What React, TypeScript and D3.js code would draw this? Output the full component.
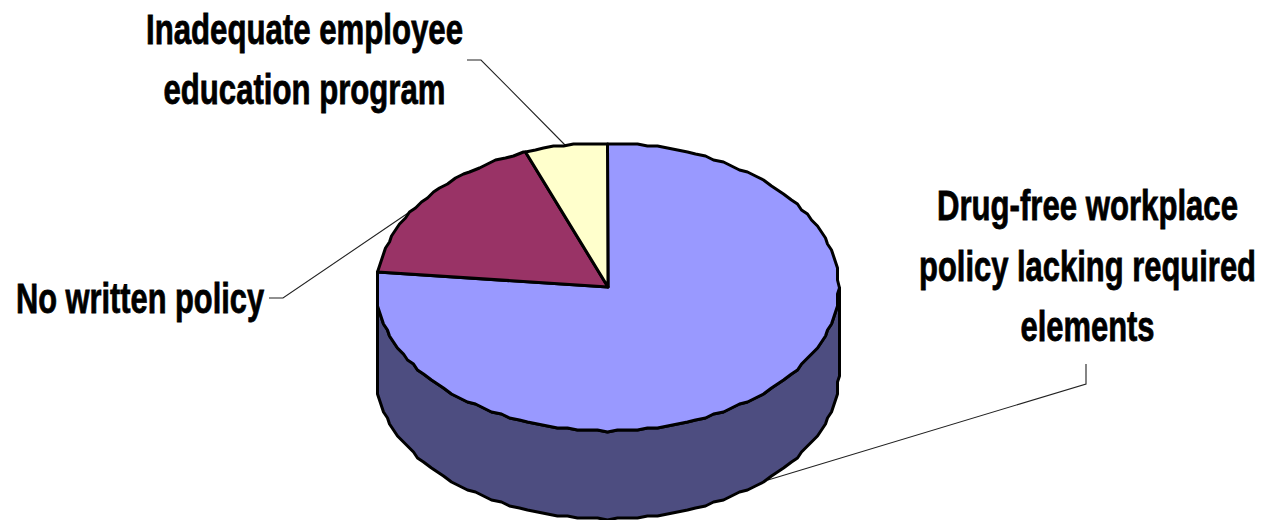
import React from "react";
import * as d3 from "d3";

const sliceNames = ["Drug-free workplace policy lacking required elements", "No written policy", "Inadequate employee education program"];
const sliceValues = [76.7, 17.5, 5.8];
const sliceColors = ["#9999FF", "#993366", "#FFFFCC"];
const wallColor = "#4D4D80";

const labelLines = [
  ["Drug-free workplace", "policy lacking required", "elements"],
  ["No written policy"],
  ["Inadequate employee", "education program"],
];
const labelWidths = [[301, 337, 134], [248], [317, 282]];
const labelCenters = [[1087.5, 220], [140, 313], [304.5, 43.5]];
const leaders = [
  [[1086, 364], [1086, 384], [768, 480]],
  [[269, 298], [283, 298], [412.5, 210]],
  [[467, 60], [481, 60], [566, 146]],
];

const W = 1262, H = 520;
const cx = 608, cy = 287, rx = 231, ry = 144, depth = 88;
const LINE_GAP = 60.5;

const pie = d3.pie<number>().sort(null).value((d) => d).startAngle(0).endAngle(2 * Math.PI);
const arcs = pie(sliceValues);

const xS = d3.scaleLinear().domain([-1, 1]).range([cx - rx, cx + rx]);
const yS = d3.scaleLinear().domain([-1, 1]).range([cy - ry, cy + ry]);
const snap = (v: number) => Math.round(v / 2) * 2;
const rim = (a: number, dy = 0): [number, number] => [snap(xS(Math.sin(a))) - 0.5, snap(yS(-Math.cos(a)) + dy)];
const STEP = (2.5 * Math.PI) / 180;
const sweep = (a0: number, a1: number, dy = 0): [number, number][] => {
  const pts = d3.range(a0, a1, STEP).map((a) => rim(a, dy));
  pts.push(rim(a1, dy));
  return pts;
};
const line = d3.line();

const blueEnd = arcs[0].endAngle;
const wallPath =
  line([...sweep(Math.PI / 2, blueEnd), ...sweep(Math.PI / 2, (3 * Math.PI) / 2, depth).reverse()])! + "Z";

export default function App() {
  return (
    <svg width={W} height={H} viewBox={`0 0 ${W} ${H}`} style={{ position: "absolute", left: 0, top: 0, background: "#fff" }}>
      <g fill="none" stroke="#222" strokeWidth={1.1}>
        {leaders.map((pts, i) => (
          <path key={i} d={line(pts as [number, number][])!} />
        ))}
      </g>
      <path d={wallPath} fill={wallColor} stroke="#000" strokeWidth={3} strokeLinejoin="round" />
      {arcs.map((a, i) => (
        <path
          key={sliceNames[i]}
          d={line([[cx, cy], ...sweep(a.startAngle, a.endAngle)])! + "Z"}
          fill={sliceColors[i]}
          stroke="#000"
          strokeWidth={3}
          strokeLinejoin="round"
        />
      ))}
      <g fontFamily="'Liberation Sans', Arial, sans-serif" fontWeight={700} fontSize={42} fill="#000" stroke="#000" strokeWidth={0.8} textAnchor="middle">
        {labelLines.map((lines, i) =>
          lines.map((t, j) => (
            <text
              key={t}
              x={labelCenters[i][0]}
              y={labelCenters[i][1] + j * LINE_GAP}
              textLength={labelWidths[i][j]}
              lengthAdjust="spacingAndGlyphs"
            >
              {t}
            </text>
          ))
        )}
      </g>
    </svg>
  );
}
